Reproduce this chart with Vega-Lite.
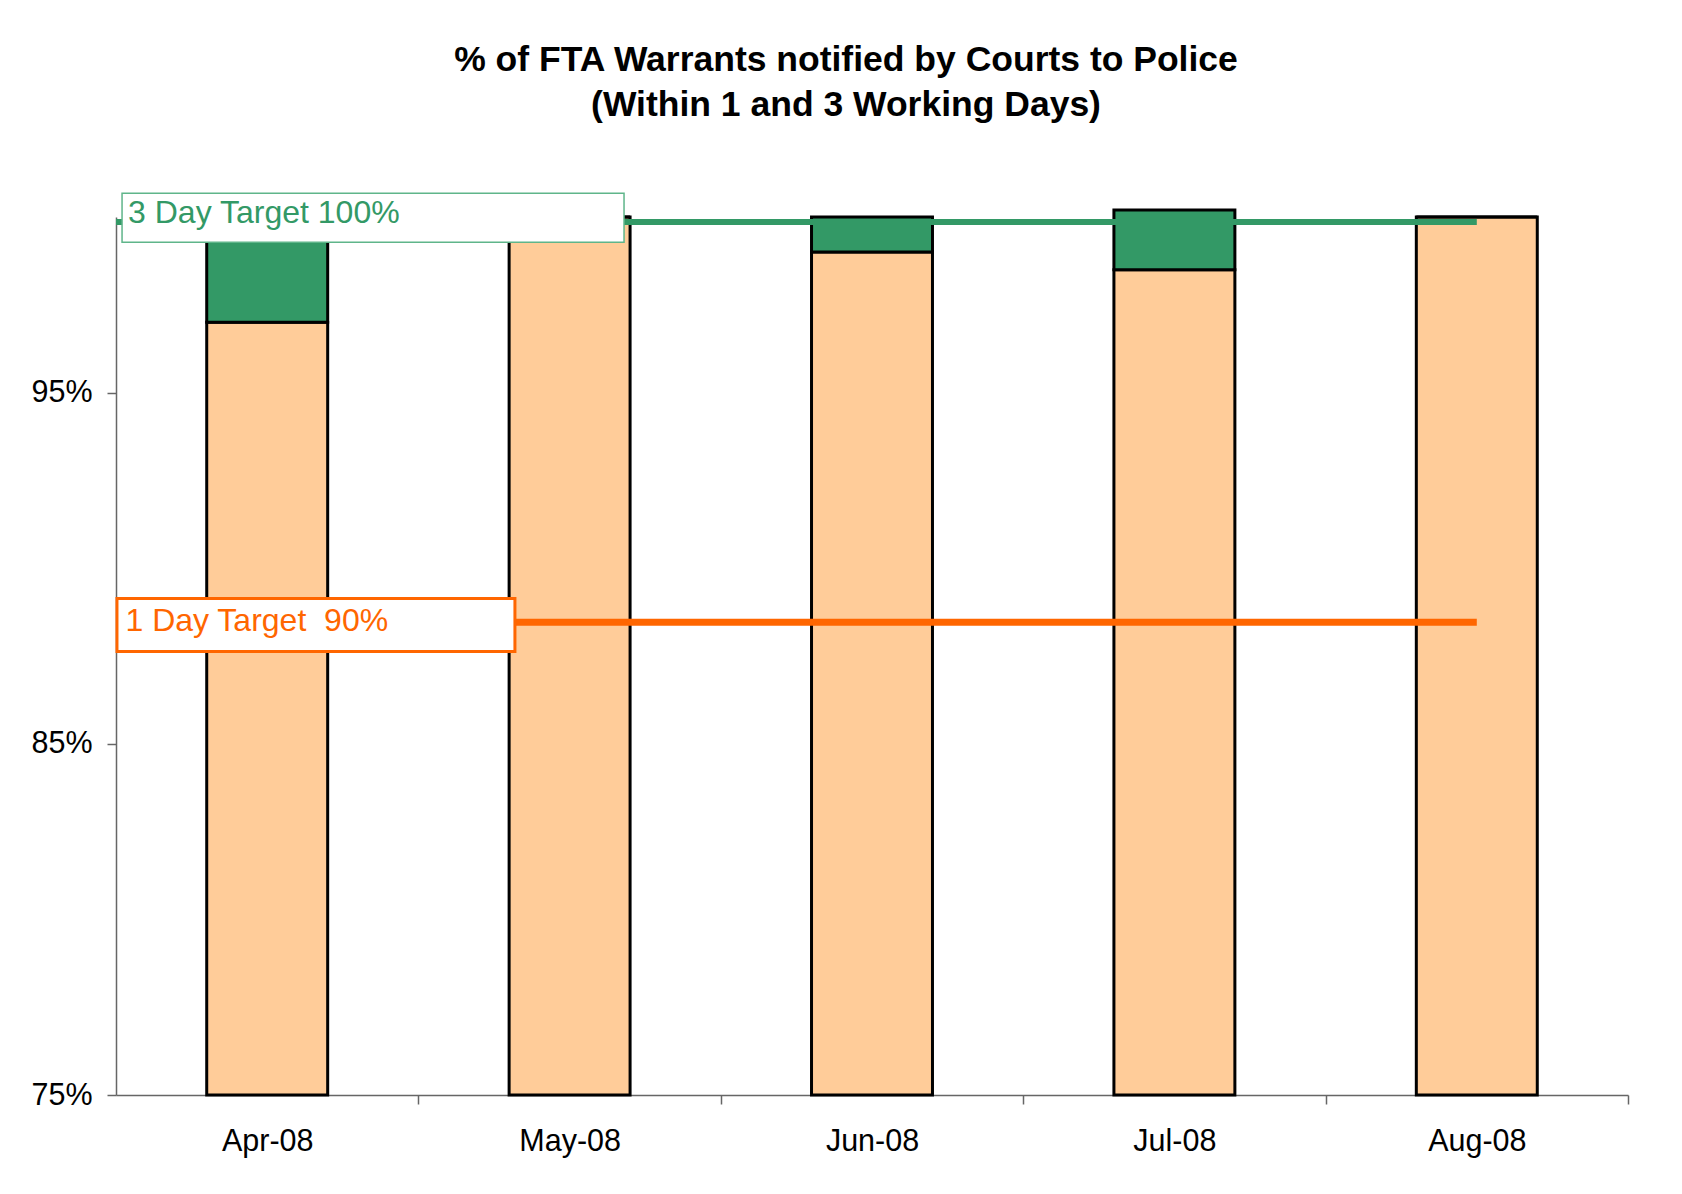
{
  "$schema": "https://vega.github.io/schema/vega-lite/v6.json",
  "width": 1512,
  "height": 878,
  "autosize": {"type": "none"},
  "padding": {"left": 116, "top": 217, "right": 54, "bottom": 99},
  "background": "white",
  "config": {"view": {"stroke": null}, "font": "Liberation Sans"},
  "title": {
    "text": ["% of FTA Warrants notified by Courts to Police", "(Within 1 and 3 Working Days)"],
    "fontSize": 35.5,
    "fontWeight": "bold",
    "font": "Liberation Sans",
    "color": "black",
    "lineHeight": 45,
    "anchor": "middle",
    "dx": -26,
    "offset": 69
  },
  "datasets": {
    "bars": [
      {"month": "Apr-08", "within_1_day": 0.970, "within_3_days": 1.000},
      {"month": "May-08", "within_1_day": 1.000, "within_3_days": 1.000},
      {"month": "Jun-08", "within_1_day": 0.990, "within_3_days": 1.000},
      {"month": "Jul-08", "within_1_day": 0.985, "within_3_days": 1.002},
      {"month": "Aug-08", "within_1_day": 1.000, "within_3_days": 1.000}
    ],
    "targets": [
      {"target": "3 Day", "label": "3 Day Target 100%", "value": 0.9986, "from": "Apr-08", "to": "Aug-08"},
      {"target": "1 Day", "label": "1 Day Target\u00a0 90%", "value": 0.8846, "from": "Apr-08", "to": "Aug-08"}
    ]
  },
  "layer": [
    {
      "data": {"name": "bars"},
      "mark": {"type": "bar", "fill": "#FFCC99", "stroke": "black", "strokeWidth": 3},
      "encoding": {
        "x": {
          "field": "month",
          "type": "nominal",
          "title": null,
          "scale": {"type": "band", "domain": ["Apr-08", "May-08", "Jun-08", "Jul-08", "Aug-08"], "paddingInner": 0.6, "paddingOuter": 0.3},
          "axis": {
            "title": null,
            "labelAngle": 0,
            "labelFontSize": 30.5,
            "labelColor": "black",
            "labelPadding": 22,
            "tickOffset": 151.2,
            "labelOffset": -151.2,
            "tickSize": 9,
            "tickColor": "#666666",
            "tickWidth": 1.5,
            "domainColor": "#666666",
            "domainWidth": 1.5
          }
        },
        "y": {
          "field": "within_1_day",
          "type": "quantitative",
          "title": null,
          "scale": {"domain": [0.75, 1.0], "zero": false, "nice": false},
          "axis": {
            "title": null,
            "values": [0.75, 0.85, 0.95],
            "format": ".0%",
            "labelFontSize": 30.5,
            "labelColor": "black",
            "labelPadding": 15,
            "tickSize": 9,
            "tickColor": "#666666",
            "tickWidth": 1.5,
            "domainColor": "#666666",
            "domainWidth": 1.5,
            "grid": false
          }
        },
        "y2": {"datum": 0.75}
      }
    },
    {
      "data": {"name": "bars"},
      "mark": {"type": "bar", "fill": "#339966", "stroke": "black", "strokeWidth": 3},
      "encoding": {
        "x": {"field": "month", "type": "nominal", "title": null},
        "y": {"field": "within_3_days", "type": "quantitative", "title": null},
        "y2": {"field": "within_1_day"}
      }
    },
    {
      "data": {"name": "targets"},
      "transform": [{"filter": "datum.target === '3 Day'"}],
      "mark": {"type": "rule", "color": "#339966", "strokeWidth": 6},
      "encoding": {
        "x": {"field": "from", "type": "nominal", "bandPosition": -0.75, "title": null},
        "x2": {"field": "to", "bandPosition": 0.5},
        "y": {"field": "value", "type": "quantitative", "title": null}
      }
    },
    {
      "data": {"name": "targets"},
      "transform": [{"filter": "datum.target === '1 Day'"}],
      "mark": {"type": "rule", "color": "#FF6600", "strokeWidth": 7},
      "encoding": {
        "x": {"field": "from", "type": "nominal", "bandPosition": -0.75, "title": null},
        "x2": {"field": "to", "bandPosition": 0.5},
        "y": {"field": "value", "type": "quantitative", "title": null}
      }
    },
    {
      "data": {"name": "targets"},
      "transform": [{"filter": "datum.target === '3 Day'"}],
      "mark": {"type": "rect", "fill": "white", "stroke": "#5fb58a", "strokeWidth": 1.5, "yOffset": -28.7, "y2Offset": 20.3},
      "encoding": {
        "x": {"datum": "Apr-08", "bandPosition": -0.7, "title": null},
        "x2": {"datum": "May-08", "bandPosition": 0.95},
        "y": {"field": "value", "type": "quantitative", "title": null},
        "y2": {"field": "value"}
      }
    },
    {
      "data": {"name": "targets"},
      "transform": [{"filter": "datum.target === '1 Day'"}],
      "mark": {"type": "rect", "fill": "white", "stroke": "#FF6600", "strokeWidth": 3, "yOffset": -23.7, "y2Offset": 29.3},
      "encoding": {
        "x": {"datum": "Apr-08", "bandPosition": -0.742, "title": null},
        "x2": {"datum": "May-08", "bandPosition": 0.048},
        "y": {"field": "value", "type": "quantitative", "title": null},
        "y2": {"field": "value"}
      }
    },
    {
      "data": {"name": "targets"},
      "transform": [{"filter": "datum.target === '3 Day'"}],
      "mark": {"type": "text", "color": "#339966", "fontSize": 32, "align": "left", "baseline": "alphabetic", "dx": 6, "dy": 1},
      "encoding": {
        "x": {"datum": "Apr-08", "bandPosition": -0.7, "title": null},
        "y": {"field": "value", "type": "quantitative", "title": null},
        "text": {"field": "label"}
      }
    },
    {
      "data": {"name": "targets"},
      "transform": [{"filter": "datum.target === '1 Day'"}],
      "mark": {"type": "text", "color": "#FF6600", "fontSize": 32, "align": "left", "baseline": "alphabetic", "dx": 8.5, "dy": 9},
      "encoding": {
        "x": {"datum": "Apr-08", "bandPosition": -0.742, "title": null},
        "y": {"field": "value", "type": "quantitative", "title": null},
        "text": {"field": "label"}
      }
    }
  ]
}
